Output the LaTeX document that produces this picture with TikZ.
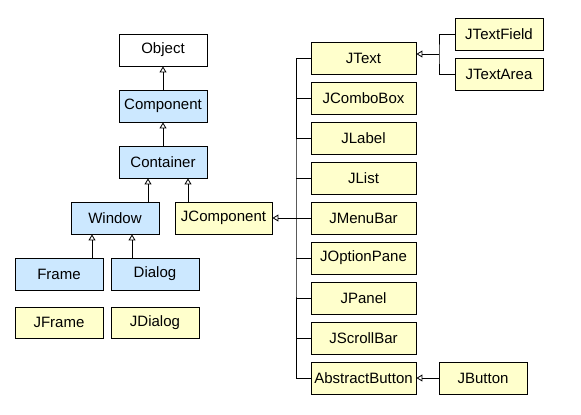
\documentclass[tikz,border=0pt]{standalone}
\usepackage{fontspec}
\setmainfont{Liberation Sans}
\usetikzlibrary{arrows.meta}
\definecolor{awtblue}{HTML}{CCE8FF}
\definecolor{swingyel}{HTML}{FFFFCC}
\begin{document}
\begin{tikzpicture}[x=1pt,y=-1pt,
  cls/.style={draw=black,line width=0.9pt,rectangle,minimum height=32pt,minimum width=88pt,inner sep=0pt,font=\fontsize{15}{18}\selectfont},
  awt/.style={cls,fill=awtblue},
  swing/.style={cls,fill=swingyel},
  plain/.style={cls,fill=white},
  conn/.style={line width=0.9pt,draw=black},
  inh/.style={conn,-{Triangle[open,width=7pt,length=6pt,line width=0.8pt]}}]
\useasboundingbox[fill=white] (0,0) rectangle (581,415);
% AWT hierarchy
\node[plain] (Object) at (163,50) {Object};
\node[awt] (Component) at (163,106) {Component};
\node[awt] (Container) at (163,162) {Container};
\node[awt] (Window) at (115,218) {Window};
\node[swing,minimum width=97pt] (JComponent) at (223.5,218) {JComponent};
\node[awt] (Frame) at (59,274) {Frame};
\node[awt] (Dialog) at (155,274) {Dialog};
\node[swing,minimum height=31pt] (JFrame) at (59,322.5) {JFrame};
\node[swing,minimum height=31pt] (JDialog) at (155,322.5) {JDialog};
% Swing column
\node[swing,minimum width=105pt] (JText) at (363.5,58) {JText};
\node[swing,minimum width=105pt] (JComboBox) at (363.5,98) {JComboBox};
\node[swing,minimum width=105pt] (JLabel) at (363.5,138) {JLabel};
\node[swing,minimum width=105pt] (JList) at (363.5,178) {JList};
\node[swing,minimum width=105pt] (JMenuBar) at (363.5,218) {JMenuBar};
\node[swing,minimum width=105pt] (JOptionPane) at (363.5,258) {JOptionPane};
\node[swing,minimum width=105pt] (JPanel) at (363.5,298) {JPanel};
\node[swing,minimum width=105pt] (JScrollBar) at (363.5,338) {JScrollBar};
\node[swing,minimum width=105pt] (AbstractButton) at (363.5,378) {AbstractButton};
\node[swing] (JTextField) at (499,34) {JTextField};
\node[swing] (JTextArea) at (499,74) {JTextArea};
\node[swing] (JButton) at (483,378) {JButton};
% inheritance connectors
\draw[inh] (Component) -- (Object);
\draw[inh] (Container) -- (Component);
\draw[inh] ([xshift=-15pt]Container.south |- Window.north) -- ([xshift=-15pt]Container.south);
\draw[inh] ([xshift=25pt]Container.south |- JComponent.north) -- ([xshift=25pt]Container.south);
\draw[inh] ([xshift=-23pt]Window.south |- Frame.north) -- ([xshift=-23pt]Window.south);
\draw[inh] ([xshift=17pt]Window.south |- Dialog.north) -- ([xshift=17pt]Window.south);
% bus to JComponent
\coordinate (bus) at (296,218);
\draw[conn] (JText.west) -| (bus) |- (AbstractButton.west);
\foreach \n in {JComboBox,JLabel,JList,JMenuBar,JOptionPane,JPanel,JScrollBar}
  \draw[conn] (\n.west) -- (\n.west -| bus);
\draw[inh] (bus) -- (JComponent.east);
% JText children
\coordinate (tbus) at (439,54);
\draw[conn] (JTextField.west) -| (tbus) |- (JTextArea.west);
\draw[inh] (tbus) -- (tbus -| JText.east);
\draw[inh] (JButton.west) -- (AbstractButton.east);
\end{tikzpicture}
\end{document}
